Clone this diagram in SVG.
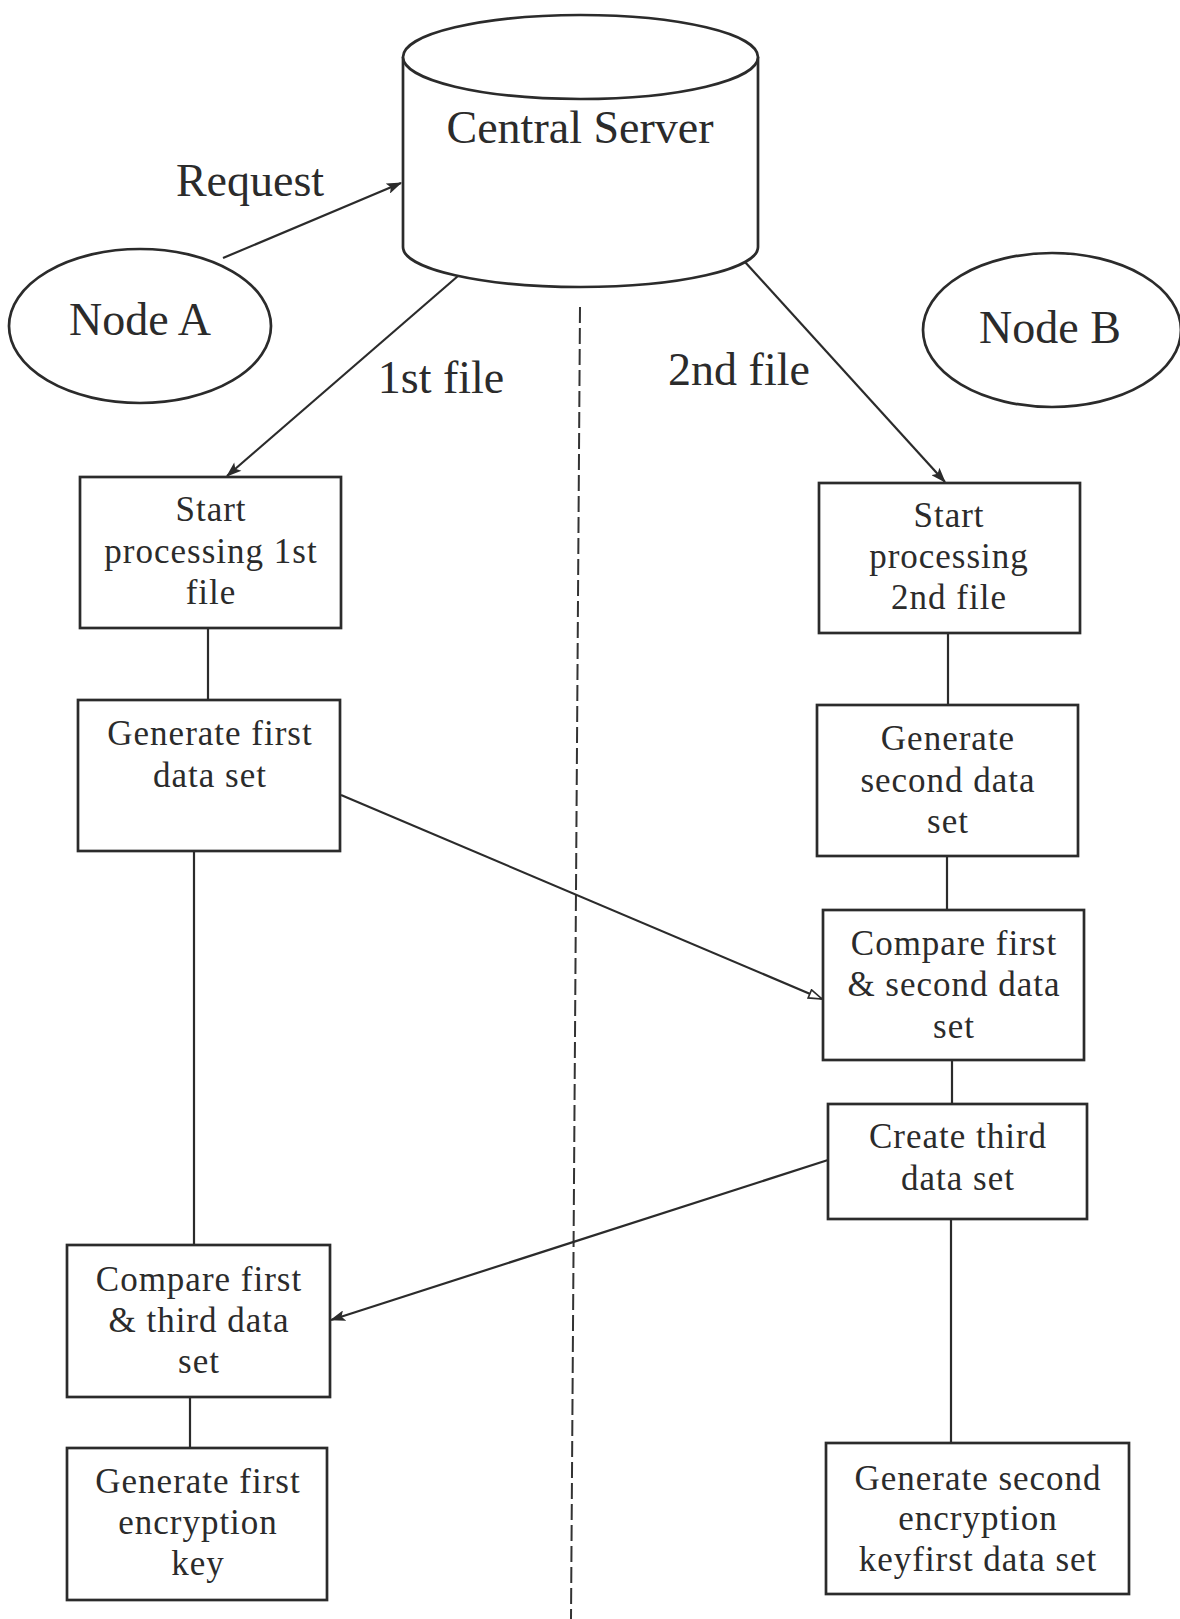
<svg xmlns="http://www.w3.org/2000/svg" width="1180" height="1619" viewBox="0 0 1180 1619">
  <style>
    .shape { fill: #ffffff; stroke: #2b2b2b; stroke-width: 2.7; }
    .conn { fill: none; stroke: #2b2b2b; stroke-width: 2.2; }
    .big { font-family: "Liberation Serif", "Times New Roman", serif; font-size: 46px; fill: #2b2b2b; text-anchor: middle; }
    .box { font-family: "Liberation Serif", "Times New Roman", serif; font-size: 35px; fill: #2b2b2b; text-anchor: middle; letter-spacing: 1px; }
    .divider { fill: none; stroke: #333333; stroke-width: 2; stroke-dasharray: 16 5; }
  </style>
  <defs>
    <marker id="arrow" viewBox="0 0 14 10" refX="13" refY="5" markerWidth="16" markerHeight="11" markerUnits="userSpaceOnUse" orient="auto">
      <path d="M0,0 L14,5 L0,10 L3,5 z" fill="#2b2b2b"/>
    </marker>
    <marker id="arrowOpen" viewBox="0 0 14 10" refX="13" refY="5" markerWidth="16" markerHeight="11" markerUnits="userSpaceOnUse" orient="auto">
      <path d="M1,1 L13,5 L1,9 z" fill="#ffffff" stroke="#2b2b2b" stroke-width="1.5"/>
    </marker>
  </defs>
  <rect width="1180" height="1619" fill="#ffffff"/>

  <!-- divider -->
  <line class="divider" x1="580" y1="307" x2="571" y2="1619"/>

  <g id="connectors">
    <line class="conn" x1="223" y1="258" x2="401" y2="183" marker-end="url(#arrow)"/>
    <line class="conn" x1="458" y1="276" x2="227" y2="476" marker-end="url(#arrow)"/>
    <line class="conn" x1="745" y1="262" x2="945" y2="482" marker-end="url(#arrow)"/>
    <line class="conn" x1="208" y1="628" x2="208" y2="700"/>
    <line class="conn" x1="194" y1="851" x2="194" y2="1245"/>
    <line class="conn" x1="190" y1="1397" x2="190" y2="1448"/>
    <line class="conn" x1="948" y1="633" x2="948" y2="705"/>
    <line class="conn" x1="947" y1="856" x2="947" y2="910"/>
    <line class="conn" x1="952" y1="1060" x2="952" y2="1104"/>
    <line class="conn" x1="951" y1="1219" x2="951" y2="1443"/>
    <line class="conn" x1="341" y1="795" x2="822" y2="999" marker-end="url(#arrowOpen)"/>
    <line class="conn" x1="828" y1="1160" x2="331" y2="1320" marker-end="url(#arrow)"/>
  </g>

  <g id="central-server">
    <path class="shape" d="M403,57 L403,247 A177.5,40 0 0 0 758,247 L758,57"/>
    <ellipse class="shape" cx="580.5" cy="57" rx="177.5" ry="42"/>
    <text class="big" x="580" y="143">Central Server</text>
  </g>

  <g id="node-a">
    <ellipse class="shape" cx="140" cy="326" rx="131" ry="77"/>
    <text class="big" x="140" y="335">Node A</text>
  </g>

  <g id="node-b">
    <ellipse class="shape" cx="1052" cy="330" rx="129" ry="77"/>
    <text class="big" x="1050" y="343">Node B</text>
  </g>

  <g id="labels">
    <text class="big" x="250" y="196">Request</text>
    <text class="big" x="441" y="393">1st file</text>
    <text class="big" x="739" y="385">2nd file</text>
  </g>

  <g id="start-1st">
    <rect class="shape" x="80" y="477" width="261" height="151"/>
    <text class="box" x="211" y="521">Start</text>
    <text class="box" x="211" y="563">processing 1st</text>
    <text class="box" x="211" y="604">file</text>
  </g>

  <g id="gen-first-data">
    <rect class="shape" x="78" y="700" width="262" height="151"/>
    <text class="box" x="210" y="745">Generate first</text>
    <text class="box" x="210" y="787">data set</text>
  </g>

  <g id="compare-first-third">
    <rect class="shape" x="67" y="1245" width="263" height="152"/>
    <text class="box" x="199" y="1291">Compare first</text>
    <text class="box" x="199" y="1332">&amp; third data</text>
    <text class="box" x="199" y="1373">set</text>
  </g>

  <g id="gen-first-key">
    <rect class="shape" x="67" y="1448" width="260" height="152"/>
    <text class="box" x="198" y="1493">Generate first</text>
    <text class="box" x="198" y="1534">encryption</text>
    <text class="box" x="198" y="1575">key</text>
  </g>

  <g id="start-2nd">
    <rect class="shape" x="819" y="483" width="261" height="150"/>
    <text class="box" x="949" y="527">Start</text>
    <text class="box" x="949" y="568">processing</text>
    <text class="box" x="949" y="609">2nd file</text>
  </g>

  <g id="gen-second-data">
    <rect class="shape" x="817" y="705" width="261" height="151"/>
    <text class="box" x="948" y="750">Generate</text>
    <text class="box" x="948" y="792">second data</text>
    <text class="box" x="948" y="833">set</text>
  </g>

  <g id="compare-first-second">
    <rect class="shape" x="823" y="910" width="261" height="150"/>
    <text class="box" x="954" y="955">Compare first</text>
    <text class="box" x="954" y="996">&amp; second data</text>
    <text class="box" x="954" y="1038">set</text>
  </g>

  <g id="create-third">
    <rect class="shape" x="828" y="1104" width="259" height="115"/>
    <text class="box" x="958" y="1148">Create third</text>
    <text class="box" x="958" y="1190">data set</text>
  </g>

  <g id="gen-second-key">
    <rect class="shape" x="826" y="1443" width="303" height="151"/>
    <text class="box" x="978" y="1490">Generate second</text>
    <text class="box" x="978" y="1530">encryption</text>
    <text class="box" x="978" y="1571">keyfirst data set</text>
  </g>
</svg>
